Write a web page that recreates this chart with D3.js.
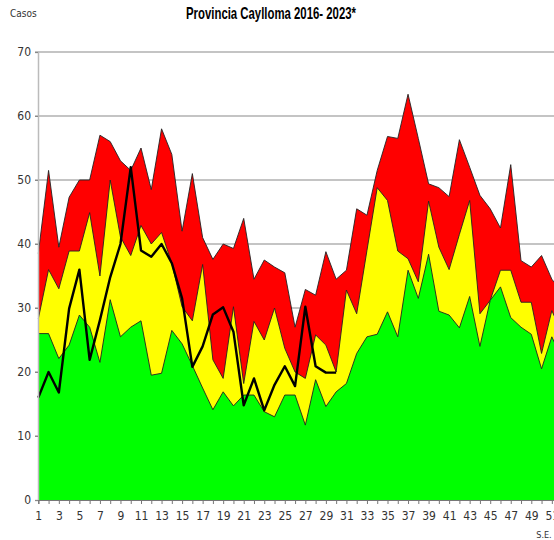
<!DOCTYPE html>
<html>
<head>
<meta charset="utf-8">
<script src="https://cdn.jsdelivr.net/npm/d3@7"></script>
<style>
html,body{margin:0;padding:0;background:#fff;}
svg{display:block;}
</style>
</head>
<body>
<script>
const weeks = [1,2,3,4,5,6,7,8,9,10,11,12,13,14,15,16,17,18,19,20,21,22,23,24,25,26,27,28,29,30,31,32,33,34,35,36,37,38,39,40,41,42,43,44,45,46,47,48,49,50,51,52];
const epidemia = [38.5,51.5,39.5,47.3,50,50,57,56,53,51.5,55,48.5,58,54,42,51,41,37.6,40,39.3,44,34.5,37.5,36.4,35.5,27,32.9,32,38.8,34.5,35.9,45.5,44.5,51.5,56.8,56.5,63.4,56.5,49.4,48.8,47.4,56.3,52,47.6,45.5,42.5,52.4,37.4,36.4,38.2,34.5,32.5];
const alarma = [28.3,36,33,38.9,38.9,44.9,35,50,41.1,38.2,42.9,40,41.8,37,30.2,28,36.8,21.9,19,30.2,18.2,27.9,25,30,23.7,20,19,25.8,24.2,20,32.8,29.1,39,48.8,46.8,38.9,37.7,34.1,46.7,39.5,36,41.5,46.8,29.1,31.2,35.9,35.9,30.9,30.9,22.9,29.6,26];
const seguridad = [26,26,22.1,24.2,28.9,27,21.5,31.3,25.5,27,28,19.5,19.8,26.5,24.4,21,17.5,14.1,16.9,14.7,16.4,16.4,13.8,13,16.4,16.4,11.7,18.8,14.6,16.9,18.2,22.9,25.5,25.9,29.4,25.5,35.9,31.5,38.4,29.5,28.9,26.9,31.8,24,31.2,33.3,28.5,27,25.9,20.5,25.5,22];
const casos2023 = [16,20,16.8,29.9,36,21.9,28.1,34.8,40,52,39,38,40,37,31.5,20.8,24,29,30.1,26.3,14.8,19,14,18,20.9,17.8,30.2,20.9,19.9,19.9];
const yTicks = [0,10,20,30,40,50,60,70];
const xLabels = [1,3,5,7,9,11,13,15,17,19,21,23,25,27,29,31,33,35,37,39,41,43,45,47,49,51];
const title = "Provincia Caylloma 2016- 2023*";

const W = 554, H = 540;
const svg = d3.select("body").append("svg").attr("width", W).attr("height", H);
const x = d3.scaleLinear().domain([1, 52]).range([38.3, 562.1]);
const y = d3.scaleLinear().domain([0, 70]).range([500, 52]);
const narrow = "'Liberation Sans Narrow','DejaVu Sans Condensed','Arial Narrow',sans-serif";

// gridlines
svg.append("g").selectAll("line").data(yTicks.filter(d => d > 0)).join("line")
  .attr("x1", 35).attr("x2", W).attr("y1", d => y(d)).attr("y2", d => y(d))
  .attr("stroke", "#8a8a8a").attr("stroke-width", 1.2);

function drawArea(vals, fill) {
  const data = weeks.map((w, i) => [w, vals[i]]);
  const area = d3.area().x(d => x(d[0])).y0(y(0)).y1(d => y(d[1]));
  const line = d3.line().x(d => x(d[0])).y(d => y(d[1]));
  svg.append("path").datum(data).attr("d", area).attr("fill", fill);
  svg.append("path").datum(data).attr("d", line).attr("fill", "none")
    .attr("stroke", "#222").attr("stroke-width", 0.9).attr("stroke-linejoin", "round");
}
drawArea(epidemia, "#ff0000");
drawArea(alarma, "#ffff00");
drawArea(seguridad, "#00ff00");

// black line
svg.append("path").datum(casos2023.map((v, i) => [weeks[i], v]))
  .attr("d", d3.line().x(d => x(d[0])).y(d => y(d[1])))
  .attr("fill", "none").attr("stroke", "#000").attr("stroke-width", 2.4)
  .attr("stroke-linejoin", "round");

// y axis
const yAxis = d3.axisLeft(y).tickValues(yTicks).tickSize(3).tickPadding(4).tickFormat(d3.format("d"));
const gy = svg.append("g").attr("transform", "translate(38,0)").call(yAxis);
gy.select(".domain").attr("stroke", "#bbb").attr("stroke-width", 1.5);
gy.selectAll(".tick line").attr("stroke", "#888");
gy.selectAll("text").attr("font-family", narrow).attr("font-size", 12).attr("fill", "#333");

// x axis
const xAxis = d3.axisBottom(x).tickValues(weeks).tickSize(4).tickPadding(7)
  .tickFormat(d => xLabels.includes(d) ? d : "");
const gx = svg.append("g").attr("transform", "translate(0,500)").call(xAxis);
gx.select(".domain").attr("stroke", "#777").attr("stroke-width", 1.2);
gx.selectAll(".tick line").attr("stroke", "#777");
gx.selectAll("text").attr("font-family", narrow).attr("font-size", 12).attr("fill", "#333");

// title and labels
svg.append("text").attr("x", 271).attr("y", 19).attr("text-anchor", "middle")
  .attr("font-family", "'Liberation Sans',Arial,sans-serif").attr("font-weight", "bold")
  .attr("font-size", 17).attr("textLength", 170).attr("lengthAdjust", "spacingAndGlyphs")
  .attr("fill", "#000").text(title);
svg.append("text").attr("x", 10).attr("y", 17).attr("font-family", narrow)
  .attr("font-size", 10).attr("fill", "#333").text("Casos");
svg.append("text").attr("x", 544).attr("y", 538).attr("text-anchor", "middle")
  .attr("font-family", narrow).attr("font-size", 9).attr("fill", "#333").text("S.E.");
</script>
</body>
</html>
